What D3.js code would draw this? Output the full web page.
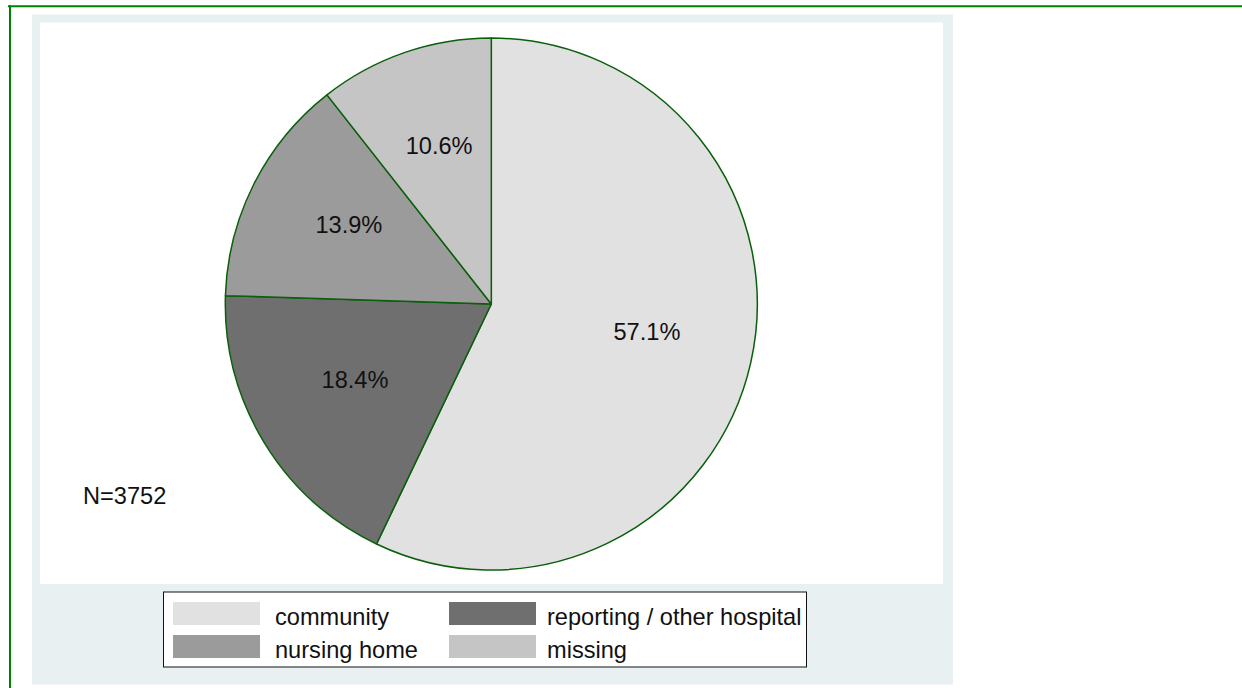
<!DOCTYPE html>
<html>
<head>
<meta charset="utf-8">
<script src="https://cdn.jsdelivr.net/npm/d3@7"></script>
<style>
  html, body { margin: 0; padding: 0; background: #ffffff; }
  svg { display: block; }
  text { font-family: "Liberation Sans", Arial, sans-serif; fill: #111; }
</style>
</head>
<body>
<svg id="chart" width="1242" height="688"></svg>
<script>
// Place of death shares (percent), drawn clockwise from 12 o'clock
const categories = ["community", "reporting / other hospital", "nursing home", "missing"];
const shares = [57.1, 18.4, 13.9, 10.6];
const sliceColors = ["#e1e1e1", "#6f6f6f", "#9b9b9b", "#c5c5c5"];
const sampleNote = "N=3752";
// legend reads row by row: community, reporting / other hospital, nursing home, missing
const legendOrder = [0, 1, 2, 3];

const svg = d3.select("#chart");
const fontSize = 23.6;

// page frame lines
svg.append("line").attr("x1", 8).attr("x2", 1242).attr("y1", 6.3).attr("y2", 6.3)
  .attr("stroke", "#008000").attr("stroke-width", 2);
svg.append("line").attr("x1", 10).attr("x2", 10).attr("y1", 5.3).attr("y2", 688)
  .attr("stroke", "#008000").attr("stroke-width", 2);

// graph region and plot region
svg.append("rect").attr("x", 32).attr("y", 14.5).attr("width", 921).attr("height", 670)
  .attr("fill", "#e8f0f2");
svg.append("rect").attr("x", 40).attr("y", 22.5).attr("width", 903).attr("height", 561.5)
  .attr("fill", "#ffffff");

// pie
const cx = 491.3, cy = 304, radius = 266;
const pie = d3.pie().sort(null).value(d => d);
const arcs = pie(shares);
const arc = d3.arc().innerRadius(0).outerRadius(radius);
const labelRadius = radius * 0.6;

const g = svg.append("g").attr("transform", `translate(${cx},${cy})`);
g.selectAll("path.slice").data(arcs).enter().append("path")
  .attr("class", "slice")
  .attr("d", arc)
  .attr("fill", (d, i) => sliceColors[i])
  .attr("stroke", "#0a5f0a")
  .attr("stroke-width", 1.5)
  .attr("stroke-linejoin", "round");

g.selectAll("text.plabel").data(arcs).enter().append("text")
  .attr("class", "plabel")
  .attr("x", d => labelRadius * Math.sin((d.startAngle + d.endAngle) / 2))
  .attr("y", d => -labelRadius * Math.cos((d.startAngle + d.endAngle) / 2))
  .attr("dy", "0.05em")
  .attr("text-anchor", "middle")
  .attr("font-size", fontSize)
  .text(d => d.value.toFixed(1) + "%");

// sample size note
svg.append("text").attr("x", 83).attr("y", 504).attr("font-size", fontSize).text(sampleNote);

// legend
const legend = svg.append("g");
legend.append("rect").attr("x", 163.5).attr("y", 592).attr("width", 643).attr("height", 75)
  .attr("fill", "#ffffff").attr("stroke", "#111").attr("stroke-width", 1);

const colX = [173, 449];
const textX = [275, 547];
const rowY = [602, 635];
legendOrder.forEach((ci, k) => {
  const col = k % 2, row = Math.floor(k / 2);
  legend.append("rect")
    .attr("x", colX[col]).attr("y", rowY[row])
    .attr("width", 87).attr("height", 23)
    .attr("fill", sliceColors[ci]);
  legend.append("text")
    .attr("x", textX[col]).attr("y", rowY[row] + 22.5)
    .attr("font-size", fontSize)
    .text(categories[ci]);
});
</script>
</body>
</html>
